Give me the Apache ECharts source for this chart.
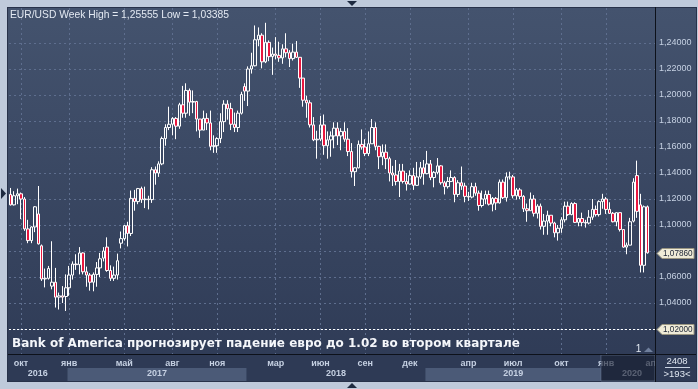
<!DOCTYPE html>
<html><head><meta charset="utf-8">
<script src="https://cdn.jsdelivr.net/npm/echarts@6/dist/echarts.min.js"></script>
<style>
html,body{margin:0;padding:0;background:#bfcadb;width:698px;height:389px;overflow:hidden}
#panel{position:absolute;left:7px;top:7px;width:690px;height:375px;box-sizing:border-box;border:1px solid #28324a;background:linear-gradient(to bottom,#44536e 0%,#2e3a55 100%)}
#chart{position:absolute;left:0;top:0;width:698px;height:389px}
</style></head><body>
<div id="panel"></div><div id="chart"></div>
<script>
// ---- data (weekly EUR/USD, from 2016-09-12) ----
const startDate = '2016-09-12';
const slotCount = 188;
const opens = [
1.1235,1.1155,1.1225,1.1240,1.1200,1.0970,1.0880,1.0985,1.1085,1.0840,1.0585,1.0590,1.0530,1.0560,1.0445,1.0455,
1.0450,1.0517,1.0615,1.0700,1.0695,1.0785,1.0640,1.0615,1.0560,1.0620,1.0670,1.0745,1.0830,1.0650,1.0590,1.0615,
1.0860,1.0895,1.0995,1.0935,1.1205,1.1180,1.1280,1.1195,1.1200,1.1195,1.1425,1.1400,1.1470,1.1665,1.1750,1.1775,
1.1820,1.1760,1.1925,1.1860,1.2035,1.1945,1.1950,1.1815,1.1730,1.1820,1.1785,1.1605,1.1610,1.1665,1.1795,1.1930,
1.1895,1.1775,1.1750,1.1860,1.2065,1.2030,1.2200,1.2225,1.2425,1.2460,1.2255,1.2405,1.2295,1.2315,1.2305,1.2285,
1.2355,1.2325,1.2280,1.2330,1.2290,1.2130,1.1960,1.1940,1.1770,1.1655,1.1660,1.1770,1.1610,1.1655,1.1685,1.1745,
1.1685,1.1720,1.1660,1.1565,1.1410,1.1440,1.1620,1.1600,1.1550,1.1625,1.1750,1.1605,1.1525,1.1560,1.1510,1.1400,
1.1385,1.1335,1.1415,1.1335,1.1315,1.1380,1.1305,1.1370,1.1440,1.1395,1.1470,1.1365,1.1405,1.1455,1.1325,1.1295,
1.1335,1.1365,1.1235,1.1325,1.1300,1.1220,1.1215,1.1295,1.1245,1.1150,1.1200,1.1235,1.1160,1.1205,1.1170,1.1330,
1.1210,1.1370,1.1370,1.1225,1.1270,1.1220,1.1125,1.1110,1.1200,1.1090,1.1145,1.0990,1.1030,1.1075,1.1015,1.0940,
1.0975,1.1040,1.1145,1.1080,1.1165,1.1020,1.1050,1.1020,1.1015,1.1060,1.1120,1.1080,1.1180,1.1200,1.1120,1.1090,
1.1025,1.1095,1.0965,1.0830,1.0845,1.1030,1.1380,1.1155,1.0690,1.1140
];
const highs = [
1.1285,1.1260,1.1280,1.1250,1.1215,1.1040,1.0990,1.1145,1.1300,1.0850,1.0665,1.0685,1.0875,1.0670,1.0480,1.0530,
1.0620,1.0685,1.0720,1.0775,1.0830,1.0790,1.0680,1.0630,1.0635,1.0715,1.0785,1.0830,1.0905,1.0690,1.0680,1.0780,
1.0950,1.1000,1.1025,1.1265,1.1270,1.1285,1.1295,1.1295,1.1225,1.1445,1.1450,1.1490,1.1680,1.1775,1.1910,1.1830,
1.1830,1.1940,1.2070,1.2090,1.2050,1.2035,1.1955,1.1815,1.1880,1.1860,1.1880,1.1690,1.1675,1.1860,1.1960,1.1960,
1.1940,1.1865,1.1880,1.2025,1.2090,1.2220,1.2325,1.2535,1.2520,1.2475,1.25555,1.2420,1.2365,1.2445,1.2410,1.2390,
1.2475,1.2345,1.2395,1.2415,1.2290,1.2130,1.1995,1.1960,1.1830,1.1725,1.1840,1.1850,1.1720,1.1720,1.1790,1.1790,
1.1745,1.1790,1.1745,1.1630,1.1445,1.1650,1.1735,1.1660,1.1720,1.1815,1.1790,1.1610,1.1620,1.1620,1.1525,1.1455,
1.1500,1.1470,1.1470,1.1400,1.1420,1.1440,1.1485,1.1485,1.1500,1.1570,1.1500,1.1415,1.1515,1.1460,1.1340,1.1370,
1.1420,1.1375,1.1345,1.1450,1.1325,1.1255,1.1325,1.1325,1.1265,1.1265,1.1265,1.1265,1.1215,1.1215,1.1350,1.1350,
1.1405,1.1410,1.1385,1.1285,1.1285,1.1230,1.1165,1.1250,1.1230,1.1160,1.1165,1.1085,1.1110,1.1075,1.1025,1.1000,
1.1060,1.1180,1.1180,1.1175,1.1175,1.1055,1.1095,1.1040,1.1115,1.1200,1.1150,1.1190,1.1240,1.1215,1.1175,1.1100,
1.1095,1.1095,1.0965,1.0865,1.1055,1.1360,1.1495,1.1240,1.1150,1.1150
];
const lows = [
1.1150,1.1150,1.1160,1.1045,1.0955,1.0860,1.0860,1.0945,1.0850,1.0570,1.0520,1.0580,1.0505,1.0365,1.0350,1.0400,
1.03385,1.0455,1.0580,1.0655,1.0620,1.0620,1.0525,1.0495,1.0490,1.0525,1.0600,1.0720,1.0640,1.0570,1.0570,1.0580,
1.0820,1.0880,1.0835,1.0915,1.1110,1.1160,1.1170,1.1130,1.1120,1.1170,1.1310,1.1370,1.1460,1.1610,1.1730,1.1690,
1.1660,1.1740,1.1825,1.1825,1.1840,1.1860,1.1720,1.1670,1.1730,1.1730,1.1575,1.1555,1.1555,1.1630,1.1715,1.1810,
1.1730,1.1715,1.1715,1.1850,1.1955,1.1915,1.2165,1.2220,1.2375,1.2205,1.2245,1.2260,1.2155,1.2275,1.2255,1.2240,
1.2290,1.2215,1.2265,1.2285,1.2055,1.1910,1.1825,1.1750,1.1645,1.1510,1.1645,1.1540,1.1510,1.1525,1.1590,1.1615,
1.1575,1.1640,1.1530,1.1365,1.1300,1.1435,1.1580,1.1530,1.1530,1.1625,1.1575,1.1430,1.1460,1.1430,1.1335,1.1300,
1.1305,1.1215,1.1320,1.1265,1.1310,1.1270,1.1300,1.1355,1.1310,1.1390,1.1345,1.1290,1.1390,1.1310,1.1235,1.1280,
1.1330,1.1175,1.1215,1.1270,1.1175,1.1185,1.1205,1.1225,1.1110,1.1135,1.1160,1.1150,1.1105,1.1115,1.1165,1.1200,
1.1180,1.1350,1.1205,1.1195,1.1200,1.1100,1.1025,1.1110,1.1065,1.1050,1.0965,1.0925,1.0925,1.0990,1.0905,1.0880,
1.0940,1.1020,1.1070,1.1075,1.1015,1.0990,1.0990,1.0980,1.1005,1.1040,1.1065,1.1065,1.1125,1.1085,1.1085,1.1020,
1.0990,1.0950,1.0825,1.0775,1.0845,1.1020,1.1055,1.0635,1.0635,1.0780
];
const closes = [
1.1155,1.1225,1.1240,1.1200,1.0970,1.0880,1.0985,1.1140,1.0855,1.0585,1.0590,1.0665,1.0560,1.0445,1.0455,1.0445,
1.0517,1.0615,1.0700,1.0695,1.0785,1.0640,1.0615,1.0560,1.0620,1.0670,1.0740,1.0800,1.0650,1.0590,1.0615,1.0725,
1.0895,1.0995,1.0935,1.1205,1.1180,1.1280,1.1195,1.1200,1.1195,1.1425,1.1400,1.1470,1.1665,1.1750,1.1775,1.1820,
1.1760,1.1925,1.1860,1.2035,1.1945,1.1950,1.1815,1.1730,1.1820,1.1785,1.1605,1.1610,1.1665,1.1795,1.1930,1.1895,
1.1775,1.1750,1.1860,1.2005,1.2030,1.2200,1.2225,1.2425,1.2460,1.2255,1.2405,1.2295,1.2315,1.2305,1.2285,1.2355,
1.2325,1.2280,1.2330,1.2290,1.2130,1.1960,1.1940,1.1770,1.1655,1.1660,1.1770,1.1610,1.1655,1.1685,1.1745,1.1685,
1.1720,1.1660,1.1565,1.1410,1.1440,1.1620,1.1600,1.1550,1.1625,1.1750,1.1605,1.1525,1.1560,1.1510,1.1400,1.1385,
1.1335,1.1415,1.1335,1.1315,1.1380,1.1305,1.1370,1.1440,1.1395,1.1470,1.1365,1.1405,1.1455,1.1325,1.1295,1.1335,
1.1365,1.1235,1.1325,1.1300,1.1220,1.1215,1.1295,1.1245,1.1150,1.1200,1.1235,1.1160,1.1205,1.1170,1.1330,1.1210,
1.1370,1.1370,1.1225,1.1270,1.1220,1.1125,1.1110,1.1200,1.1090,1.1145,1.0990,1.1030,1.1075,1.1015,1.0940,1.0975,
1.1040,1.1145,1.1080,1.1165,1.1020,1.1050,1.1020,1.1015,1.1060,1.1120,1.1080,1.1180,1.1200,1.1120,1.1090,1.1025,
1.1095,1.0965,1.0830,1.0845,1.1025,1.1330,1.1105,1.0690,1.1140,1.0786
];
// axis tick labels (month / year rows)
const monthTickDates = ['2016-10-03','2017-01-09','2017-05-01','2017-08-07','2017-11-06','2018-03-05','2018-06-04','2018-09-03','2018-12-03','2019-04-01','2019-07-01','2019-10-07','2020-01-06','2020-04-06'];
const monthTickLabels = ['окт','янв','май','авг','ноя','мар','июн','сен','дек','апр','июл','окт','янв','ап'];
const yearStartDates = ['2017-01-09','2018-01-08','2019-01-07','2019-12-30'];
const yearLabels = ['2016','2017','2018','2019','2020'];
const forecastLevel = 1.02;
const headline = 'Bank of America прогнозирует падение евро до 1.02 во втором квартале';
const barsInfo = ['2408', '>193<'];
const countMark = '1';

// ---- build ----
const weeks = [];
for (let i = 0; i < slotCount; i++) {
  const d = new Date(Date.UTC(2016, 8, 12 + 7 * i));
  weeks.push(d.toISOString().slice(0, 10));
}
const candles = opens.map((o, i) => [o, closes[i], lows[i], highs[i]]);
const fmt = v => v.toFixed(5).replace('.', ',');
const hi = Math.max(...highs), lo = Math.min(...lows);
const lastClose = closes[closes.length - 1];
const titleText = 'EUR/USD Week High = ' + fmt(hi) + ' Low = ' + fmt(lo);

const G = {left: 9, right: 42, top: 30, bottom: 34};
const pitch = (698 - G.left - G.right) / slotCount;
const gridColor = '#5e6e8e';
const FONT = 'Liberation Sans';

const chart = echarts.init(document.getElementById('chart'), null, {renderer: 'canvas'});
const option = {
  animation: false,
  backgroundColor: 'transparent',
  grid: [
    {left: G.left, right: G.right, top: G.top, bottom: G.bottom},
    {left: G.left + pitch / 2, right: G.right + pitch / 2, top: 8, bottom: G.bottom}
  ],
  xAxis: [
    {type: 'category', gridIndex: 0, data: weeks, boundaryGap: true, z: 3,
     axisLine: {show: false}, axisTick: {show: false}, splitLine: {show: false},
     axisLabel: {
       interval: (idx, val) => monthTickDates.indexOf(val) >= 0,
       formatter: val => monthTickLabels[monthTickDates.indexOf(val)] || '',
       color: '#c5d0e2', fontSize: 9, fontWeight: 'bold', fontFamily: FONT, margin: 4
     }},
    {type: 'category', gridIndex: 1, data: weeks, boundaryGap: false,
     axisLine: {show: false}, axisTick: {show: false}, axisLabel: {show: false},
     splitLine: {show: true, interval: (idx, val) => monthTickDates.slice(0, -1).indexOf(val) >= 0,
       lineStyle: {color: gridColor, type: [2, 3], width: 1}}}
  ],
  yAxis: [
    {type: 'value', gridIndex: 0, position: 'right', min: 1.0, max: 1.25, interval: 0.02,
     axisLine: {show: false}, axisTick: {show: false},
     splitLine: {show: true, showMinLine: false, showMaxLine: false, lineStyle: {color: gridColor, type: [2, 3], width: 1}},
     axisLabel: {
       showMinLabel: false, showMaxLabel: false, margin: 3, align: 'left',
       color: '#c6d1e3', fontSize: 9, fontFamily: FONT,
       formatter: v => {
         const r = Math.round(v * 100) / 100;
         if (r <= 1.02 || r >= 1.25 || Math.abs(r - lastClose) < 0.006) return '';
         return fmt(r);
       }
     }},
    {type: 'value', gridIndex: 1, show: false, min: 0, max: 1, splitLine: {show: false}}
  ],
  series: [{
    type: 'candlestick', xAxisIndex: 0, yAxisIndex: 0, data: candles,
    barWidth: 3, clip: false, silent: true,
    itemStyle: {color: 'rgba(0,0,0,0)', color0: '#e8173f', borderColor: '#ffffff', borderColor0: '#ffffff', borderWidth: 1},
    markLine: {silent: true, symbol: ['none', 'none'], label: {show: false}, animation: false,
      lineStyle: {color: '#ffffff', type: [2, 2], width: 1}, emphasis: {disabled: true},
      data: [{yAxis: forecastLevel}]}
  }]
};
chart.setOption(option);

// ---- decorations placed through the axes ----
const xAt = i => chart.convertToPixel({xAxisIndex: 0}, i);
const yAt = v => chart.convertToPixel({yAxisIndex: 0}, v);
const plotRight = 698 - G.right - 1;
const axisTop = 389 - G.bottom;
const g = [];
// x-axis area
g.push({type: 'rect', z: 1, shape: {x: 8, y: axisTop, width: plotRight - 8, height: 26}, style: {fill: '#2e3a55'}});
const bounds = [8].concat(yearStartDates.map(d => xAt(weeks.indexOf(d)) - pitch / 2)).concat([plotRight]);
for (let k = 0; k < yearLabels.length; k++) {
  const x0 = bounds[k], x1 = bounds[k + 1];
  if (k % 2 === 1) g.push({type: 'rect', z: 1, shape: {x: x0, y: axisTop + 13, width: x1 - x0, height: 13}, style: {fill: '#4b5a77'}});
  const cx = k === yearLabels.length - 1 ? (x0 + x1 + 8) / 2 : (x0 + x1) / 2;
  g.push({type: 'text', z: 3, x: cx, y: axisTop + 19, style: {text: yearLabels[k], fill: '#c5d0e2', font: 'bold 9px "Liberation Sans"', textAlign: 'center', textVerticalAlign: 'middle', align: 'center', verticalAlign: 'middle'}});
}
// dim overlay over the last segment of the axis
const ovX = bounds[bounds.length - 2];
g.push({type: 'rect', z: 4, shape: {x: ovX, y: axisTop, width: plotRight - ovX, height: 26}, style: {fill: 'rgba(22,29,46,0.62)', stroke: 'rgba(120,135,165,0.5)', lineWidth: 1}});
// black frame lines
g.push({type: 'line', z: 5, shape: {x1: plotRight + 0.5, y1: 7, x2: plotRight + 0.5, y2: 382}, style: {stroke: '#0d111a', lineWidth: 1}});
g.push({type: 'line', z: 5, shape: {x1: 8, y1: axisTop - 0.5, x2: 696, y2: axisTop - 0.5}, style: {stroke: '#0d111a', lineWidth: 1}});
// price tags
function tag(v) {
  const y = Math.round(yAt(v)) + 0.5;
  const x = plotRight + 2;
  g.push({type: 'polygon', z: 10, shape: {points: [[x, y], [x + 5, y - 5], [x + 37, y - 5], [x + 37, y + 5], [x + 5, y + 5]]}, style: {fill: '#efebd7', stroke: '#9a9682', lineWidth: 1}});
  g.push({type: 'text', z: 11, x: x + 6, y: y + 0.5, style: {text: fmt(v), fill: '#1b2334', font: '8.2px "Liberation Sans"', textAlign: 'left', textVerticalAlign: 'middle', align: 'left', verticalAlign: 'middle'}});
}
tag(lastClose);
tag(forecastLevel);
// headline & title
g.push({type: 'text', z: 10, x: 12, y: 343.5, style: {text: headline, fill: '#f4f6fa', font: 'bold 12px "DejaVu Sans"', textAlign: 'left', textVerticalAlign: 'middle', align: 'left', verticalAlign: 'middle'}});
g.push({type: 'text', z: 10, x: 10, y: 15, style: {text: titleText, fill: '#e3e9f2', font: '10.3px "Liberation Sans"', textAlign: 'left', textVerticalAlign: 'middle', align: 'left', verticalAlign: 'middle'}});
// count mark
g.push({type: 'text', z: 10, x: 638.5, y: 349, style: {text: countMark, fill: '#e3e9f2', font: '10px "Liberation Sans"', textAlign: 'center', textVerticalAlign: 'middle', align: 'center', verticalAlign: 'middle'}});
g.push({type: 'polygon', z: 10, shape: {points: [[644, 352], [648.5, 347.5], [653, 352]]}, style: {fill: '#6f7f9c'}});
// bars info box
g.push({type: 'text', z: 10, x: 677, y: 361.5, style: {text: barsInfo[0], fill: '#dfe6f0', font: '9.5px "Liberation Sans"', textAlign: 'center', textVerticalAlign: 'middle', align: 'center', verticalAlign: 'middle'}});
g.push({type: 'line', z: 10, shape: {x1: 665, y1: 367.5, x2: 690, y2: 367.5}, style: {stroke: '#c9d3e3', lineWidth: 1}});
g.push({type: 'text', z: 10, x: 677, y: 374.5, style: {text: barsInfo[1], fill: '#dfe6f0', font: '9.5px "Liberation Sans"', textAlign: 'center', textVerticalAlign: 'middle', align: 'center', verticalAlign: 'middle'}});
// frame arrows
g.push({type: 'polygon', z: 10, shape: {points: [[347, 1], [357, 1], [352, 6]]}, style: {fill: '#1e2a40'}});
g.push({type: 'polygon', z: 10, shape: {points: [[347, 388], [357, 388], [352, 383]]}, style: {fill: '#1e2a40'}});
g.push({type: 'polygon', z: 10, shape: {points: [[1, 188], [1, 199], [6, 193.5]]}, style: {fill: '#1e2a40'}});

chart.setOption({graphic: {elements: g}});
</script></body></html>
